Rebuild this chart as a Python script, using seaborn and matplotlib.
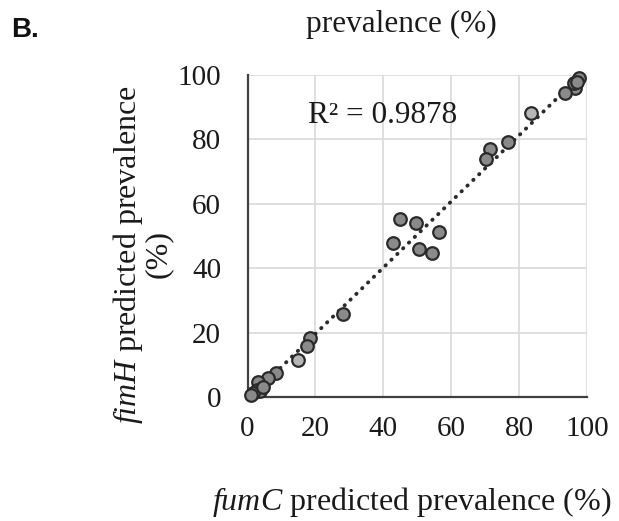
import numpy as np
import pandas as pd
import matplotlib
matplotlib.use("Agg")
import matplotlib.pyplot as plt
import seaborn as sns

# fumC vs fimH predicted prevalence (%) per sample
fumc_prev = [97.6, 96.6, 96.1, 93.6, 97.0, 83.5, 76.7, 71.6, 70.3,
             45.0, 49.6, 56.3, 43.0, 50.4, 54.5, 28.0, 18.4, 17.5,
             15.0, 8.4, 6.1, 3.2, 2.7, 3.7, 1.7, 4.5, 1.0]
fimh_prev = [99.0, 95.9, 97.4, 94.3, 97.8, 88.1, 79.3, 76.9, 73.8,
             55.2, 54.0, 51.4, 47.8, 45.9, 44.7, 25.9, 18.3, 15.7,
             11.4, 7.4, 5.9, 4.6, 2.3, 1.8, 1.2, 3.0, 0.5]
light_pts = [False, False, False, False, False, True, False, False, False,
             False, False, False, False, False, False, False, False, False,
             True, False, False, False, False, False, False, False, False]
r2_label = "R\u00b2 = 0.9878"
ticks = [0, 20, 40, 60, 80, 100]

df = pd.DataFrame({"fumC": fumc_prev, "fimH": fimh_prev, "light": light_pts})

sns.set_theme(style="white")
plt.rcParams["font.family"] = ["Liberation Serif", "DejaVu Serif"]
plt.rcParams["mathtext.fontset"] = "custom"
plt.rcParams["mathtext.rm"] = "Liberation Serif"
plt.rcParams["mathtext.it"] = "Liberation Serif:italic"

fig = plt.figure(figsize=(6.19, 5.21), dpi=100)
ax = fig.add_axes([0.400, 0.238, 0.548, 0.618])

# least-squares trend line, round dots
sns.regplot(data=df, x="fumC", y="fimH", ax=ax, scatter=False, ci=None,
            line_kws=dict(color="#2b2b2b", lw=2.8, linestyle=(0, (0.1, 2.0)),
                          dash_capstyle="round", zorder=2))

sns.scatterplot(data=df[~df["light"]], x="fumC", y="fimH", ax=ax, s=82,
                color="#8a8a8a", edgecolor="#2a2a2a", linewidth=1.6,
                zorder=3, clip_on=False)
sns.scatterplot(data=df[df["light"]], x="fumC", y="fimH", ax=ax, s=82,
                color="#b6b6b6", edgecolor="#2a2a2a", linewidth=1.6,
                zorder=3, clip_on=False)

ax.set_xlim(0, 100)
ax.set_ylim(0, 100)
ax.set_xticks(ticks)
ax.set_yticks(ticks)
ax.set_xticklabels([str(t) for t in ticks])
ax.set_yticklabels([str(t) for t in ticks])
ax.grid(True, color="#d9d9d9", lw=1.2)
ax.set_axisbelow(True)
for side in ("top", "right"):
    ax.spines[side].set_visible(False)
for side in ("left", "bottom"):
    ax.spines[side].set_color("#404040")
    ax.spines[side].set_linewidth(1.6)
ax.tick_params(axis="x", length=0, pad=14, labelsize=21, labelcolor="#1a1a1a")
ax.tick_params(axis="y", length=0, pad=19, labelsize=21, labelcolor="#1a1a1a")
ax.set_xlabel("")
ax.set_ylabel("")

ax.text(17.8, 87.5, r2_label, fontsize=22.5, color="#1a1a1a", va="center", ha="left")

fig.text(0.665, 0.036, r"$\mathit{fumC}$ predicted prevalence (%)",
         ha="center", va="center", fontsize=23, color="#1a1a1a")
fig.text(0.229, 0.512, "$\\mathit{fimH}$ predicted prevalence\n(%)",
         ha="center", va="center", rotation=90, fontsize=23, color="#1a1a1a",
         linespacing=0.95)
fig.text(0.648, 0.954, "prevalence (%)", ha="center", va="center",
         fontsize=22.5, color="#1a1a1a")
fig.text(0.018, 0.942, "B.", ha="left", va="center", fontsize=20,
         fontweight="bold", family="Liberation Sans", color="#111111")

fig.savefig("out.png", dpi=100)
